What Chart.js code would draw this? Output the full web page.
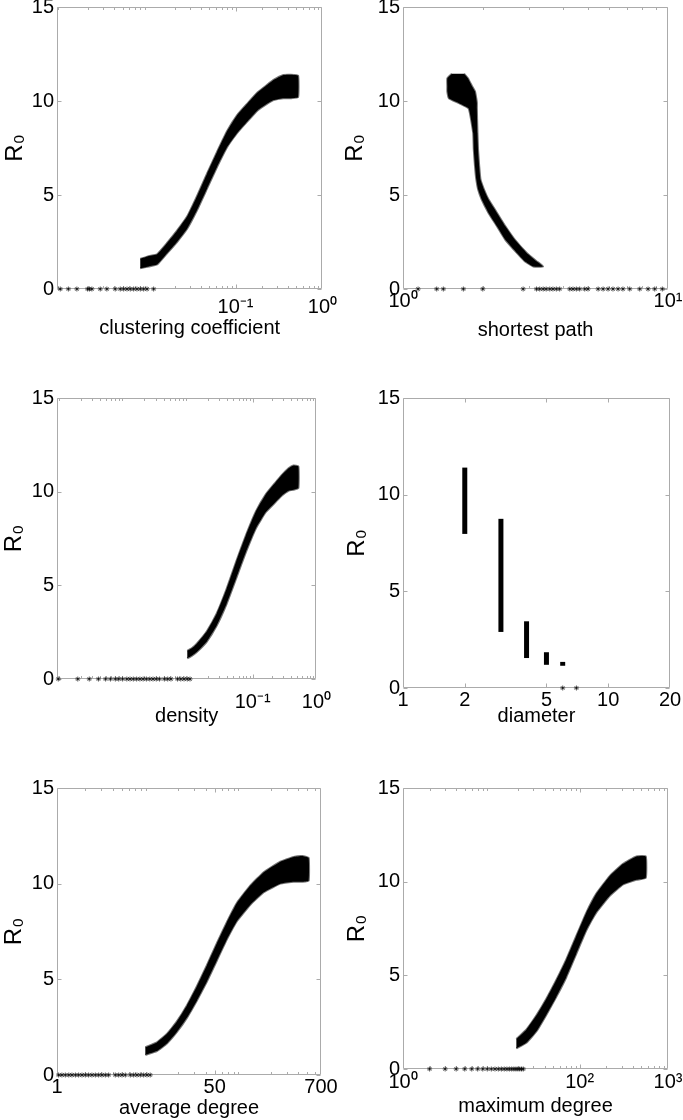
<!DOCTYPE html>
<html><head><meta charset="utf-8">
<script src="https://cdn.jsdelivr.net/npm/chart.js@4.4.1/dist/chart.umd.min.js"></script>
<style>
html,body{margin:0;padding:0;background:#fff;overflow:hidden;width:683px;height:1120px;position:relative}
.p{position:absolute}
canvas{display:block}
</style></head><body>
<div class="p" id="d1"><canvas id="c1"></canvas></div>
<div class="p" id="d2"><canvas id="c2"></canvas></div>
<div class="p" id="d3"><canvas id="c3"></canvas></div>
<div class="p" id="d4"><canvas id="c4"></canvas></div>
<div class="p" id="d5"><canvas id="c5"></canvas></div>
<div class="p" id="d6"><canvas id="c6"></canvas></div>
<script>
// ---------- shared y axis ----------
const yTicks = [0, 5, 10, 15];
const yTickLabels = ['0', '5', '10', '15'];

// ---------- panel 1: clustering coefficient ----------
const ccTicks = [0.1, 1];
const ccTickLabels = ['10\u207B\u00B9', '10\u2070'];
const ccZero = [0.00096, 0.00119, 0.00149, 0.00198, 0.00208, 0.00222, 0.00277, 0.0033, 0.00412, 0.00471,
  0.00515, 0.00563, 0.00614, 0.00671, 0.00733, 0.00801, 0.00875, 0.00957, 0.0114];
const ccX  = [0.0080, 0.0100, 0.0125, 0.0163, 0.0212, 0.0277, 0.0361, 0.0471, 0.0614, 0.0801, 0.1045, 0.136, 0.179, 0.23, 0.274, 0.357, 0.43, 0.525];
const ccHi = [1.6, 1.75, 1.85, 2.45, 3.1, 3.85, 4.95, 6.15, 7.3, 8.4, 9.25, 9.85, 10.45, 10.85, 11.12, 11.38, 11.4, 11.35];
const ccLo = [1.1, 1.2, 1.3, 1.9, 2.5, 3.2, 4.2, 5.35, 6.5, 7.55, 8.3, 8.9, 9.5, 9.85, 10.05, 10.15, 10.15, 10.2];

// ---------- panel 2: shortest path ----------
const spTicks = [1, 10];
const spTickLabels = ['10\u2070', '10\u00B9'];
const spZero = [1.14, 1.34, 1.42, 1.69, 2.0, 2.84, 3.19, 3.28, 3.38, 3.47, 3.58, 3.68, 3.79, 3.9, 4.26, 4.38, 4.51,
  4.64, 4.85, 4.99, 5.45, 5.69, 5.94, 6.2, 6.48, 6.76, 7.17, 7.82, 8.41, 8.91, 9.52];
const spR0    = [11.45, 11.2, 10.8, 10.5, 10.15, 9.9, 9.6, 8.3, 7.4, 6.5, 5.84, 5.3, 4.77, 4.06, 3.35, 2.63, 1.92, 1.48, 1.2];
const spLeft  = [1.53, 1.47, 1.47, 1.47, 1.49, 1.62, 1.77, 1.84, 1.85, 1.87, 1.89, 1.92, 1.98, 2.10, 2.26, 2.43, 2.69, 2.88, 3.10];
const spRight = [1.70, 1.76, 1.82, 1.87, 1.89, 1.90, 1.90, 1.91, 1.92, 1.94, 1.96, 2.02, 2.10, 2.26, 2.43, 2.64, 2.93, 3.19, 3.38];

// ---------- panel 3: density ----------
const deTicks = [0.1, 1];
const deTickLabels = ['10\u207B\u00B9', '10\u2070'];
const deZero = [0.000089, 0.00018, 0.000273, 0.00038, 0.000492, 0.000587, 0.0007, 0.00079, 0.00091, 0.00106, 0.00119,
  0.00134, 0.00151, 0.0017, 0.00191, 0.00215, 0.00243, 0.00273, 0.00307, 0.00345, 0.00412, 0.00464, 0.00522,
  0.00662, 0.00745, 0.00838, 0.00942, 0.0104];
const deX  = [0.00942, 0.0112, 0.0134, 0.0191, 0.0273, 0.0389, 0.0555, 0.0789, 0.1125, 0.160, 0.229, 0.288, 0.366, 0.435, 0.522];
const deHi = [1.5, 1.65, 1.9, 2.55, 3.5, 4.8, 6.3, 7.7, 8.95, 9.85, 10.5, 10.9, 11.25, 11.4, 11.35];
const deLo = [1.1, 1.25, 1.45, 2.0, 2.85, 4.0, 5.4, 6.8, 8.05, 8.9, 9.45, 9.8, 10.05, 10.1, 10.2];

// ---------- panel 4: diameter ----------
const diTicks = [1, 2, 5, 10, 20];
const diTickLabels = ['1', '2', '5', '10', '20'];
const diX  = [2, 3, 4, 5, 6];
const diLo = [7.97, 2.9, 1.55, 1.2, 1.15];
const diHi = [11.4, 8.75, 3.45, 1.85, 1.35];
const diZero = [6, 7];

// ---------- panel 5: average degree ----------
const adTicks = [1, 50, 700];
const adTickLabels = ['1', '50', '700'];
const adZero = [1.04, 1.13, 1.23, 1.34, 1.45, 1.58, 1.71, 1.86, 2.02, 2.19, 2.38, 2.59, 2.81, 3.05, 3.32, 3.6,
  4.25, 4.62, 5.02, 5.45, 6.17, 6.7, 7.28, 7.91, 8.59, 9.33, 10.1];
const adX  = [8.95, 11.9, 15.3, 19.6, 25.2, 32.3, 41.4, 53.0, 67.9, 87.1, 121, 169, 255, 355, 440, 515];
const adHi = [1.45, 1.7, 2.15, 2.8, 3.65, 4.65, 5.75, 6.9, 8.0, 9.0, 9.9, 10.6, 11.15, 11.4, 11.45, 11.35];
const adLo = [1.05, 1.25, 1.65, 2.25, 3.0, 3.9, 4.9, 6.0, 7.1, 8.05, 8.9, 9.55, 10.0, 10.1, 10.1, 10.15];

// ---------- panel 6: maximum degree ----------
const mdTicks = [1, 100, 1000];
const mdTickLabels = ['10\u2070', '10\u00B2', '10\u00B3'];
const mdZero = [2, 3, 4, 5, 6, 7, 8, 9, 10, 11, 12, 13, 14, 15, 16, 17, 18, 19, 20, 21, 22, 23];
const mdX  = [19.2, 24.9, 32.3, 42.0, 54.4, 70.6, 91.6, 119, 154, 219, 310, 438, 560];
const mdHi = [1.6, 2.1, 2.85, 3.75, 4.75, 5.85, 7.1, 8.35, 9.35, 10.3, 10.95, 11.35, 11.35];
const mdLo = [1.1, 1.4, 2.0, 2.9, 3.85, 4.9, 6.15, 7.4, 8.35, 9.25, 9.85, 10.1, 10.2];

// ---------- helpers ----------
const FONT = '"Liberation Sans", Arial, Helvetica, sans-serif';
const FS = 20;
const FS_YT = 24;

function bandByX(xs, hi, lo) {
  const pts = xs.map((x, i) => ({x: x, y: hi[i]}));
  for (let i = xs.length - 1; i >= 0; i--) pts.push({x: xs[i], y: lo[i]});
  return pts;
}
function bandByLevel(levels, left, right) {
  const pts = levels.map((r, i) => ({x: left[i], y: r}));
  for (let i = levels.length - 1; i >= 0; i--) pts.push({x: right[i], y: levels[i]});
  return pts;
}
function bandDataset(pts) {
  return {data: pts, showLine: true, fill: 'shape', backgroundColor: '#000',
    borderColor: 'rgba(0,0,0,0.55)', borderWidth: 2, tension: 0.12,
    pointRadius: 0, pointHoverRadius: 0, clip: 6};
}
function zeroDataset(xs) {
  return {data: xs.map(x => ({x: x, y: 0})), showLine: false, pointStyle: 'star',
    pointRadius: 2.5, pointBorderWidth: 1, pointBorderColor: 'rgba(0,0,0,0.65)',
    pointBackgroundColor: 'rgba(0,0,0,0)', clip: 8};
}

const framePlugin = {
  id: 'frame',
  beforeDatasetsDraw(chart, args, o) {
    const ctx = chart.ctx, a = chart.chartArea;
    const xs = chart.scales.x, ys = chart.scales.y;
    const L = Math.round(a.left) + 0.5, R = Math.round(a.right) - 0.5;
    const T = Math.round(a.top) + 0.5, B = Math.round(a.bottom) - 0.5;
    ctx.save();
    ctx.strokeStyle = '#ababab';
    ctx.lineWidth = 1;
    ctx.beginPath();
    ctx.rect(L, T, R - L, B - T);
    yTicks.forEach(v => {
      const p = Math.round(ys.getPixelForValue(v)) + 0.5;
      ctx.moveTo(L, p); ctx.lineTo(L + 4, p);
      ctx.moveTo(R, p); ctx.lineTo(R - 4, p);
    });
    const xt = (v, len) => {
      const p = Math.round(xs.getPixelForValue(v)) + 0.5;
      if (p < L + 1 || p > R - 1) return;
      ctx.moveTo(p, B); ctx.lineTo(p, B - len);
      ctx.moveTo(p, T); ctx.lineTo(p, T + len);
    };
    o.major.forEach(v => xt(v, 4));
    if (o.minor) {
      const lo = Math.floor(Math.log10(xs.min)), hi = Math.ceil(Math.log10(xs.max));
      for (let k = lo; k <= hi; k++) {
        for (let m = 2; m <= 9; m++) {
          const v = m * Math.pow(10, k);
          if (v > xs.min && v < xs.max) xt(v, 2.5);
        }
      }
    }
    ctx.stroke();
    ctx.restore();
  }
};

function makePanel(n, g, xmin, xmax, ticks, tickLabels, xTitle, datasets, minor) {
  const d = document.getElementById('d' + n);
  d.style.left = g.left + 'px'; d.style.top = g.top + 'px';
  const c = document.getElementById('c' + n);
  c.width = g.width; c.height = g.height;
  c.style.width = g.width + 'px'; c.style.height = g.height + 'px';
  new Chart(c, {
    type: 'scatter',
    data: {datasets: datasets},
    options: {
      responsive: false, animation: false, events: [],
      layout: {padding: {top: 20, right: 20, left: 0, bottom: 0}},
      plugins: {legend: {display: false}, tooltip: {enabled: false},
        frame: {major: ticks, minor: minor}},
      scales: {
        x: {
          type: 'logarithmic', min: xmin, max: xmax,
          grid: {display: false, drawTicks: false}, border: {display: false},
          afterBuildTicks: s => { s.ticks = ticks.map(v => ({value: v})); },
          afterFit: s => { s.height = g.xH; },
          ticks: {autoSkip: false, maxRotation: 0, minRotation: 0, padding: g.xTickPad, color: '#000',
            font: {family: FONT, size: FS}, callback: (v, i) => tickLabels[i]},
          title: {display: true, text: xTitle, color: '#000', padding: {top: 0, bottom: 0},
            font: {family: FONT, size: FS}}
        },
        y: {
          type: 'linear', min: 0, max: 15,
          grid: {display: false, drawTicks: false}, border: {display: false},
          afterBuildTicks: s => { s.ticks = yTicks.map(v => ({value: v})); },
          afterFit: s => { s.width = g.yW; },
          ticks: {padding: 3, color: '#000', font: {family: FONT, size: FS},
            callback: (v, i) => yTickLabels[i]},
          title: {display: true, text: 'R\u2080', color: '#000', padding: {top: g.yTitlePad, bottom: 0},
            font: {family: FONT, size: FS_YT}}
        }
      }
    },
    plugins: [framePlugin]
  });
}

makePanel(1, {left: 0, top: -13, width: 343, height: 353, yW: 57, xH: 51, yTitlePad: 1, xTickPad: 6},
  0.00088, 1, ccTicks, ccTickLabels, 'clustering coefficient',
  [zeroDataset(ccZero), bandDataset(bandByX(ccX, ccHi, ccLo))], true);

makePanel(2, {left: 340, top: -13, width: 348, height: 355, yW: 63, xH: 53, yTitlePad: 1, xTickPad: 0},
  1, 10, spTicks, spTickLabels, 'shortest path',
  [zeroDataset(spZero), bandDataset(bandByLevel(spR0, spLeft, spRight))], true);

makePanel(3, {left: 0, top: 378, width: 342, height: 350, yW: 57, xH: 49, yTitlePad: 0, xTickPad: 11},
  0.000085, 1, deTicks, deTickLabels, 'density',
  [zeroDataset(deZero), bandDataset(bandByX(deX, deHi, deLo))], true);

const diSets = [zeroDataset(diZero)];
diX.forEach((x, i) => {
  diSets.push({data: [{x: x, y: diLo[i]}, {x: x, y: diHi[i]}], showLine: true, fill: false,
    borderColor: '#000', borderWidth: 5, borderCapStyle: 'butt', pointRadius: 0, pointHoverRadius: 0, clip: 6});
});
makePanel(4, {left: 340, top: 378, width: 350, height: 350, yW: 63, xH: 40, yTitlePad: 3, xTickPad: 0},
  1, 20, diTicks, diTickLabels, 'diameter', diSets, false);

makePanel(5, {left: 0, top: 768, width: 341, height: 352, yW: 57, xH: 45, yTitlePad: 0, xTickPad: 0},
  1, 700, adTicks, adTickLabels, 'average degree',
  [zeroDataset(adZero), bandDataset(bandByX(adX, adHi, adLo))], true);

makePanel(6, {left: 340, top: 768, width: 348, height: 350, yW: 63, xH: 49, yTitlePad: 3, xTickPad: 1},
  1, 1000, mdTicks, mdTickLabels, 'maximum degree',
  [zeroDataset(mdZero), bandDataset(bandByX(mdX, mdHi, mdLo))], true);
</script>
</body></html>
